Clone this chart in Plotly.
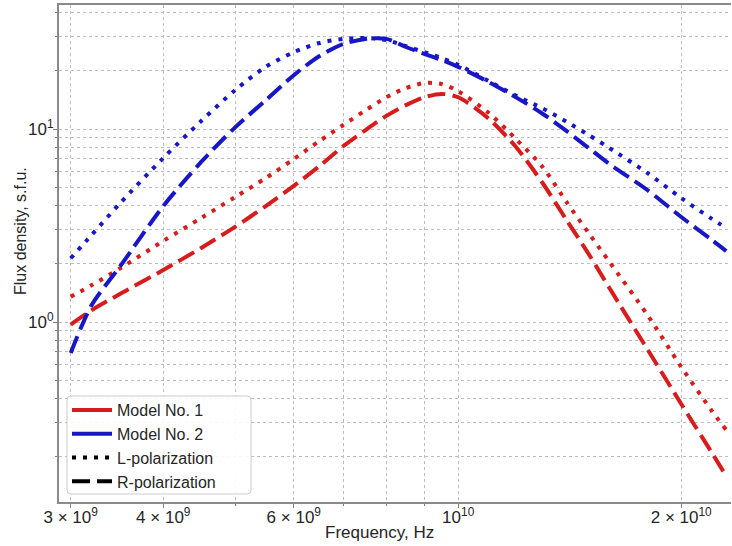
import plotly.graph_objects as go

# Frequency grid (Hz)
freq_hz = [3.0e9, 3.2e9, 3.5e9, 4.0e9, 4.5e9, 5.0e9, 5.5e9, 6.0e9, 6.5e9, 7.0e9,
           7.5e9, 8.0e9, 8.5e9, 9.0e9, 9.5e9, 1.0e10, 1.1e10, 1.2e10, 1.3e10,
           1.4e10, 1.5e10, 1.6e10, 1.8e10, 2.0e10, 2.2e10, 2.3e10]

# Flux density, s.f.u.
model1_L = [1.35, 1.55, 1.90, 2.63, 3.46, 4.44, 5.57, 6.99, 8.67, 10.5,
            12.5, 14.6, 16.3, 17.3, 17.1, 15.7, 12.1, 8.77, 6.36,
            4.19, 2.89, 2.05, 1.09, 0.585, 0.346, 0.276]
model1_R = [0.97, 1.15, 1.40, 1.86, 2.42, 3.11, 3.99, 5.07, 6.43, 8.16,
            9.88, 11.7, 13.3, 14.6, 15.2, 14.6, 11.3, 7.97, 5.25,
            3.38, 2.25, 1.50, 0.724, 0.376, 0.210, 0.159]
model2_L = [2.14, 2.82, 4.14, 7.08, 11.0, 15.9, 21.0, 25.0, 27.9, 29.3,
            29.6, 28.9, 26.9, 25.0, 23.3, 21.5, 17.7, 14.8, 12.8,
            10.9, 9.31, 7.97, 5.92, 4.39, 3.42, 3.07]
model2_R = [0.691, 1.22, 1.95, 3.99, 6.75, 10.2, 14.1, 19.0, 23.9, 27.6,
            29.3, 29.3, 26.6, 24.5, 22.8, 21.0, 17.5, 14.5, 12.0,
            9.77, 7.97, 6.59, 4.83, 3.50, 2.66, 2.33]

x_tickvals = [3e9, 4e9, 6e9, 1e10, 2e10]
x_ticktext = ["3 × 10<sup>9</sup>", "4 × 10<sup>9</sup>", "6 × 10<sup>9</sup>",
              "10<sup>10</sup>", "2 × 10<sup>10</sup>"]
x_minor = [5e9, 7e9, 8e9, 9e9]
y_tickvals = [1, 10]
y_ticktext = ["10<sup>0</sup>", "10<sup>1</sup>"]
y_minor = [0.2, 0.3, 0.4, 0.5, 0.6, 0.7, 0.8, 0.9,
           2, 3, 4, 5, 6, 7, 8, 9, 20, 30, 40]

legend_names = ["Model No. 1", "Model No. 2", "L-polarization", "R-polarization"]

RED = "#d81c1c"
BLUE = "#1717c8"
DOT = "4px,7px"
DASH = "18px,7px"
LW = 4

fig = go.Figure()
for ys, col, dash in [(model1_L, RED, DOT), (model1_R, RED, DASH),
                      (model2_L, BLUE, DOT), (model2_R, BLUE, DASH)]:
    fig.add_trace(go.Scatter(x=freq_hz, y=ys, mode="lines", showlegend=False,
                             line=dict(color=col, width=LW, dash=dash, shape="spline", smoothing=0.8),
                             hoverinfo="skip"))

# legend entries
for name, col, dash in [(legend_names[0], RED, "solid"), (legend_names[1], BLUE, "solid"),
                        (legend_names[2], "black", DOT), (legend_names[3], "black", DASH)]:
    fig.add_trace(go.Scatter(x=[None], y=[None], mode="lines", name=name,
                             line=dict(color=col, width=LW, dash=dash)))

W, H = 732, 546
L, R, T, B = 59, 731, 5, 502
pw, ph = R - L, B - T

def px(xp):
    return (xp - L) / pw

def py(yp):
    return (B - yp) / ph

grid = dict(showgrid=True, gridcolor="#bdbdbd", griddash="dot", gridwidth=1)

fig.update_layout(
    width=W, height=H,
    margin=dict(l=L, r=W - R, t=T, b=H - B),
    paper_bgcolor="white", plot_bgcolor="white",
    font=dict(family="Liberation Sans, Arial, sans-serif", size=17, color="#262626"),
    xaxis=dict(type="log", range=[9.4613, 10.3682],
               tickmode="array", tickvals=x_tickvals, ticktext=x_ticktext,
               ticks="outside", ticklen=4, tickcolor="#808080", ticklabelstandoff=-5,
               showline=True, linecolor="#8a8a8a", linewidth=2, mirror=True,
               zeroline=False, **grid,
               minor=dict(tickvals=x_minor, ticks="outside", ticklen=2,
                          tickcolor="#808080", showgrid=True, gridcolor="#bdbdbd",
                          griddash="dot", gridwidth=1)),
    yaxis=dict(type="log", range=[-0.9326, 1.6425],
               tickmode="array", tickvals=y_tickvals, ticktext=y_ticktext,
               ticks="outside", ticklen=4, tickcolor="#808080", ticklabelstandoff=-4,
               showline=True, linecolor="#8a8a8a", linewidth=2, mirror=False,
               zeroline=False, **grid,
               minor=dict(tickvals=y_minor, ticks="outside", ticklen=2,
                          tickcolor="#808080", showgrid=True, gridcolor="#bdbdbd",
                          griddash="dot", gridwidth=1)),
    legend=dict(x=px(67), y=py(393), xanchor="left", yanchor="top",
                bgcolor="rgba(0,0,0,0)", borderwidth=0,
                font=dict(size=16, color="#262626"), itemwidth=40,
                tracegroupgap=0),
    showlegend=True,
)

# legend frame (rounded)
x0, x1, y0, y1 = px(67), px(251), py(494), py(396)
rx, ry = 4 / pw, 4 / ph
path = (f"M {x0+rx},{y0} L {x1-rx},{y0} Q {x1},{y0} {x1},{y0+ry} "
        f"L {x1},{y1-ry} Q {x1},{y1} {x1-rx},{y1} L {x0+rx},{y1} "
        f"Q {x0},{y1} {x0},{y1-ry} L {x0},{y0+ry} Q {x0},{y0} {x0+rx},{y0} Z")
fig.add_shape(type="path", path=path, xref="paper", yref="paper",
              fillcolor="rgba(255,255,255,0.9)", line=dict(color="#cccccc", width=1),
              layer="above")

fig.add_annotation(text="Frequency, Hz", x=px(379), y=py(532), xref="paper", yref="paper",
                   showarrow=False, xanchor="center", yanchor="middle",
                   font=dict(size=17, color="#262626"))
fig.add_annotation(text="Flux density, s.f.u.", x=px(20), y=py(231), xref="paper", yref="paper",
                   showarrow=False, xanchor="center", yanchor="middle", textangle=-90,
                   font=dict(size=16, color="#262626"))

fig.write_html("out.html", config={"displayModeBar": False},
               post_script="document.body.style.margin='0';document.body.style.overflow='hidden';")
